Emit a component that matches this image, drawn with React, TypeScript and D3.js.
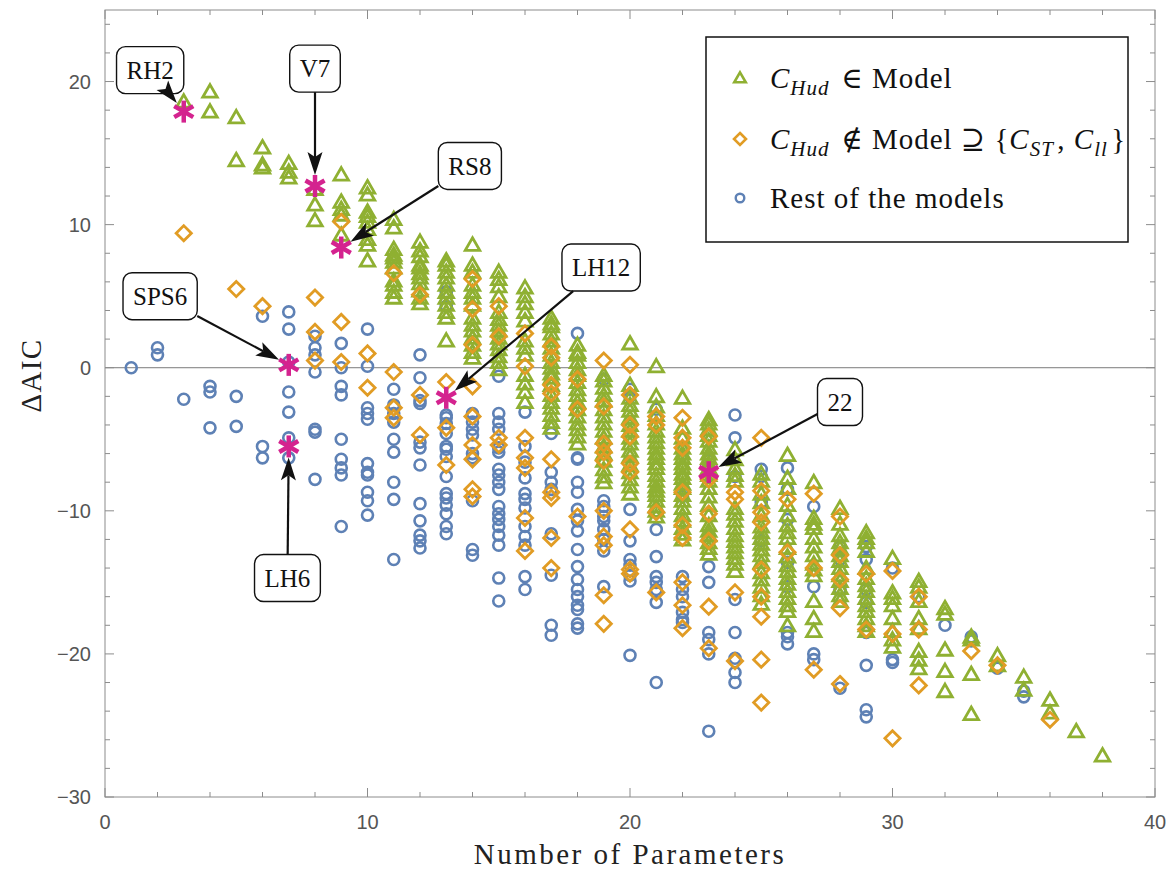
import React, { useEffect, useRef } from "react";
import * as d3 from "d3";

const W = 1169;
const H = 870;

// ΔAIC values, grouped by number of parameters: [params, [ΔAIC, ...]]
const hudInModel: [number, number[]][] = [
  [3, [18.5]],
  [4, [19.2, 17.8]],
  [5, [17.4, 14.4]],
  [6, [15.3, 14.1, 13.9]],
  [7, [14.2, 13.6, 13.2]],
  [8, [12.4, 11.3, 10.2]],
  [9, [13.4, 11.5, 11.0, 10.6, 9.2]],
  [10, [12.5, 12.0, 10.8, 10.5, 10.1, 9.6, 8.9, 8.5, 7.4]],
  [11, [10.3, 9.7, 8.2, 7.8, 7.6, 7.3, 6.9, 6.0, 5.7, 5.2, 4.8]],
  [12, [8.7, 8.1, 7.7, 7.1, 6.9, 6.5, 6.2, 5.8, 5.3, 4.8, 4.4]],
  [13, [7.4, 7.1, 6.6, 6.2, 5.7, 5.2, 4.8, 4.3, 3.8, 3.4, 1.8]],
  [14, [8.5, 7.1, 6.6, 5.7, 5.2, 4.8, 4.3, 3.4, 2.9, 2.5, 2.0, 1.5, 1.0, 0.6]],
  [15, [6.6, 6.1, 5.6, 4.9, 3.8, 3.3, 2.9, 2.5, 2.0, 1.6, 1.2, 0.7, 0.3, -0.2]],
  [16, [5.5, 4.9, 4.4, 3.8, 3.2, 1.8, 1.3, 0.8, -0.6, -1.2, -1.8, -2.5]],
  [17, [3.4, 3.0, 2.8, 2.3, 1.8, 1.3, 0.8, 0.3, -0.1, -0.5, -0.8, -1.3, -2.0, -2.5, -2.9, -3.4, -3.9, -4.3]],
  [18, [1.5, 1.0, 0.8, 0.3, -0.2, -0.6, -1.1, -1.6, -2.0, -2.5, -3.0, -3.5, -4.0, -4.4, -4.9, -5.4]],
  [19, [-0.6, -1.0, -1.5, -2.0, -2.4, -3.0, -3.5, -4.0, -4.5, -5.0, -5.6, -6.1, -6.6, -7.2, -7.7, -8.1]],
  [20, [1.6, -1.3, -2.2, -2.7, -3.1, -3.6, -4.1, -4.5, -5.0, -5.4, -5.9, -6.3, -6.9, -7.4, -7.9, -8.4, -8.9]],
  [21, [0.0, -2.1, -2.8, -3.4, -4.0, -4.5, -4.9, -5.3, -5.7, -6.1, -6.4, -6.8, -7.1, -7.6, -8.0, -8.4, -8.7, -9.0, -9.4, -9.8, -10.1, -10.5]],
  [22, [-2.2, -4.3, -5.0, -5.7, -6.1, -6.4, -6.8, -7.1, -7.5, -7.8, -8.2, -8.5, -9.0, -9.4, -9.9, -10.4, -10.8, -11.3, -11.7, -12.1]],
  [23, [-3.7, -4.0, -4.4, -4.8, -5.2, -5.7, -6.1, -6.4, -6.8, -7.1, -7.6, -8.0, -8.5, -9.1, -9.7, -10.4, -11.1, -11.5, -11.8, -12.3, -12.7, -13.1]],
  [24, [-5.8, -6.5, -7.1, -7.6, -8.0, -9.9, -10.3, -10.8, -11.3, -11.8, -12.2, -12.6, -13.0, -13.4, -13.8, -14.3]],
  [25, [-7.5, -8.0, -8.9, -9.5, -10.4, -11.2, -11.6, -12.0, -12.4, -12.8, -13.2, -13.7, -14.4, -14.9, -15.4, -16.0, -16.6]],
  [26, [-6.2, -7.8, -8.5, -9.7, -10.4, -11.1, -11.6, -12.0, -12.7, -13.3, -13.9, -14.3, -14.8, -15.2, -15.7, -16.2, -16.7, -17.1, -18.1]],
  [27, [-8.1, -10.6, -11.0, -11.3, -12.0, -12.6, -13.2, -13.8, -14.2, -14.6, -16.4, -17.6, -18.5]],
  [28, [-9.9, -11.0, -11.8, -12.3, -12.7, -13.2, -13.6, -14.1, -14.6, -15.0, -15.5, -16.0, -16.4]],
  [29, [-11.6, -12.0, -12.3, -12.9, -14.1, -14.8, -15.3, -15.7, -16.2, -16.7, -17.1, -17.6, -18.1, -18.5]],
  [30, [-13.4, -15.8, -16.2, -16.7, -17.6, -18.5, -19.1, -19.6]],
  [31, [-15.0, -15.4, -16.4, -17.6, -18.3, -19.9, -20.5, -21.1]],
  [32, [-16.9, -17.3, -19.8, -21.3, -22.7]],
  [33, [-18.9, -19.1, -21.5, -24.3]],
  [34, [-20.2, -20.9]],
  [35, [-21.7, -22.6]],
  [36, [-23.3, -24.2]],
  [37, [-25.5]],
  [38, [-27.2]],
];

const hudOutWithSTll: [number, number[]][] = [
  [3, [9.4]],
  [5, [5.5]],
  [6, [4.3]],
  [8, [4.9, 2.5, 0.5]],
  [9, [10.2, 3.2, 0.4]],
  [10, [1.0, -1.4]],
  [11, [6.6, -0.3, -2.8, -3.5]],
  [12, [5.1, -1.9, -4.7]],
  [13, [-1.0, -4.2, -6.8]],
  [14, [6.2, 4.1, 1.6, -1.3, -3.4, -5.4, -6.4, -8.5, -9.0]],
  [15, [4.3, 2.2, -4.9, -5.4]],
  [16, [2.4, 0.1, -4.9, -6.3, -7.0, -10.5, -12.8]],
  [17, [1.5, 0.7, -1.2, -1.8, -6.4, -8.7, -9.1, -11.9, -14.0]],
  [18, [-0.8, -2.9, -10.4]],
  [19, [0.5, -2.7, -5.3, -5.9, -6.5, -10.0, -11.8, -12.4, -15.9, -17.9]],
  [20, [0.2, -1.9, -4.0, -4.8, -6.7, -7.3, -11.3, -14.1, -14.4]],
  [21, [-3.4, -4.0, -10.1, -15.7]],
  [22, [-3.5, -4.9, -5.6, -8.7, -11.0, -11.9, -15.0, -16.6, -18.2]],
  [23, [-4.8, -7.8, -10.2, -12.1, -16.7, -19.6]],
  [24, [-8.7, -9.2, -15.7, -20.5]],
  [25, [-4.9, -8.6, -10.1, -10.8, -14.1, -16.0, -17.4, -20.4, -23.4]],
  [26, [-9.2, -12.9]],
  [27, [-8.8, -14.0, -21.1]],
  [28, [-10.4, -13.1, -14.8, -16.8, -22.1]],
  [29, [-14.4, -18.3]],
  [30, [-14.2, -18.6, -25.9]],
  [31, [-16.0, -18.3, -22.2]],
  [33, [-19.8]],
  [34, [-20.8]],
  [36, [-24.6]],
];

const otherModels: [number, number[]][] = [
  [1, [0.0]],
  [2, [1.4, 0.9]],
  [3, [-2.2]],
  [4, [-1.3, -1.7, -4.2]],
  [5, [-2.0, -4.1]],
  [6, [3.6, -5.5, -6.3]],
  [7, [3.9, 2.7, 0.4, -1.7, -3.1, -4.9, -6.3]],
  [8, [2.2, 1.4, 0.9, -0.3, -4.3, -4.5, -7.8]],
  [9, [1.7, 0.0, -1.3, -1.9, -5.0, -6.4, -7.0, -7.5, -11.1]],
  [10, [2.7, 0.1, -2.8, -3.2, -3.6, -6.7, -7.3, -7.5, -8.7, -9.3, -10.3]],
  [11, [-1.5, -2.6, -3.2, -3.8, -5.0, -5.9, -8.0, -9.2, -13.4]],
  [12, [0.9, -0.7, -2.3, -2.5, -5.2, -5.6, -6.8, -9.5, -10.7, -11.7, -12.1, -12.6]],
  [13, [5.3, 4.3, -3.3, -3.5, -3.9, -4.6, -5.5, -5.7, -6.2, -7.6, -8.8, -9.1, -9.6, -10.2, -11.1, -11.6]],
  [14, [-3.2, -3.8, -4.3, -4.7, -6.0, -6.3, -9.3, -12.7, -13.1]],
  [15, [-0.6, -3.2, -3.8, -4.3, -5.6, -5.9, -7.1, -7.5, -8.0, -8.5, -9.7, -10.2, -10.6, -11.1, -11.7, -12.4, -14.7, -16.3]],
  [16, [-3.1, -5.5, -6.6, -7.7, -8.8, -9.2, -9.8, -11.1, -11.8, -12.4, -14.6, -15.5]],
  [17, [-4.6, -7.3, -8.0, -8.5, -11.6, -14.5, -18.0, -18.7]],
  [18, [2.4, -6.3, -6.4, -8.0, -8.7, -9.9, -10.7, -11.4, -12.7, -13.9, -14.8, -15.5, -16.0, -16.6, -16.9, -17.9, -18.2]],
  [19, [-0.8, -9.3, -9.7, -10.4, -10.7, -11.3, -12.0, -12.8, -15.3]],
  [20, [-1.5, -2.0, -9.9, -12.1, -13.4, -13.8, -14.5, -14.9, -20.1]],
  [21, [-2.9, -11.3, -13.2, -14.6, -15.0, -15.5, -16.4, -22.0]],
  [22, [-9.0, -14.6, -15.5, -16.0, -17.1, -17.6, -17.8]],
  [23, [-6.5, -13.9, -15.0, -18.5, -19.0, -20.0, -25.4]],
  [24, [-3.3, -4.9, -7.6, -16.2, -18.5, -20.3, -21.3, -22.0]],
  [25, [-7.1, -7.6, -9.4, -12.1]],
  [26, [-7.0, -8.5, -10.6, -13.6, -15.3, -18.5, -18.8, -19.3]],
  [27, [-9.7, -15.3, -20.0, -20.4]],
  [28, [-12.5, -13.4, -15.5, -22.4]],
  [29, [-12.5, -13.4, -15.5, -16.4, -18.5, -20.8, -23.9, -24.4]],
  [30, [-14.0, -20.4, -20.6]],
  [31, [-16.0]],
  [32, [-18.0]],
  [33, [-18.8, -19.1]],
  [34, [-21.0]],
  [35, [-22.6, -23.0]],
];

// Benchmark models that are called out on the plot
const benchmarks = [
  { name: "RH2", params: 3, aic: 17.9 },
  { name: "V7", params: 8, aic: 12.7 },
  { name: "RS8", params: 9, aic: 8.4 },
  { name: "SPS6", params: 7, aic: 0.2 },
  { name: "LH12", params: 13, aic: -2.1 },
  { name: "LH6", params: 7, aic: -5.5 },
  { name: "22", params: 23, aic: -7.3 },
];

// Where each callout box sits, in data coordinates
const calloutAt: Record<string, [number, number]> = {
  RH2: [1.72, 20.8],
  V7: [8.0, 20.9],
  RS8: [13.9, 14.1],
  SPS6: [2.1, 5.0],
  LH12: [18.9, 7.0],
  LH6: [6.95, -14.7],
  "22": [28.0, -2.4],
};

const xTicks = [0, 10, 20, 30, 40];
const yTicks = [-30, -20, -10, 0, 10, 20];

const GREEN = "#8FB032";
const ORANGE = "#E19C24";
const BLUE = "#5E81B5";
const MAGENTA = "#D4238F";
const SERIF = "Liberation Serif, Tinos, Times New Roman, DejaVu Serif, serif";
const SANS = "Liberation Sans, Arimo, Arial, DejaVu Sans, sans-serif";

const flatten = (cols: [number, number[]][]) =>
  cols.flatMap(([p, vals]) => vals.map((v) => ({ p, v })));

const trianglePath = (s: number) => {
  const h = (s * Math.sqrt(3)) / 2;
  return `M0,${(-2 * h) / 3}L${s / 2},${h / 3}L${-s / 2},${h / 3}Z`;
};
const diamondPath = (r: number) => `M0,${-r}L${r},0L0,${r}L${-r},0Z`;

export default function App() {
  const ref = useRef<SVGSVGElement>(null);

  useEffect(() => {
    const svg = d3.select(ref.current!);
    svg.selectAll("*").remove();

    const x = d3.scaleLinear().domain([0, 40]).range([105, 1155]);
    const y = d3.scaleLinear().domain([-30, 25]).range([797, 10]);
    const [x0, x1] = x.range();
    const [y0, y1] = y.range();

    svg.append("rect").attr("width", W).attr("height", H).attr("fill", "#fff");

    // zero reference line
    svg
      .append("line")
      .attr("x1", x0)
      .attr("x2", x1)
      .attr("y1", y(0))
      .attr("y2", y(0))
      .attr("stroke", "#7a7a7a")
      .attr("stroke-width", 1);

    // frame and ticks
    const frame = svg.append("g").attr("stroke", "#8c8c8c").attr("stroke-width", 1);
    frame
      .append("rect")
      .attr("x", x0)
      .attr("y", y1)
      .attr("width", x1 - x0)
      .attr("height", y0 - y1)
      .attr("fill", "none");

    d3.range(-30, 25.1, 2).forEach((v) => {
      const len = v % 10 === 0 ? 9 : 5;
      frame.append("line").attr("x1", x0).attr("x2", x0 + len).attr("y1", y(v)).attr("y2", y(v));
      frame.append("line").attr("x1", x1).attr("x2", x1 - len).attr("y1", y(v)).attr("y2", y(v));
    });
    d3.range(0, 40.1, 2).forEach((v) => {
      const len = v % 10 === 0 ? 9 : 5;
      frame.append("line").attr("x1", x(v)).attr("x2", x(v)).attr("y1", y0).attr("y2", y0 - len);
      frame.append("line").attr("x1", x(v)).attr("x2", x(v)).attr("y1", y1).attr("y2", y1 + len);
    });

    const fmt = (v: number) => (v < 0 ? `\u2212${Math.abs(v)}` : `${v}`);
    svg
      .append("g")
      .selectAll("text")
      .data(yTicks)
      .join("text")
      .attr("x", x0 - 14)
      .attr("y", (d) => y(d))
      .attr("dy", "0.36em")
      .attr("text-anchor", "end")
      .attr("font-family", SANS)
      .attr("font-size", 20)
      .attr("fill", "#555")
      .text(fmt);
    svg
      .append("g")
      .selectAll("text")
      .data(xTicks)
      .join("text")
      .attr("x", (d) => x(d))
      .attr("y", y0 + 32)
      .attr("text-anchor", "middle")
      .attr("font-family", SANS)
      .attr("font-size", 20)
      .attr("fill", "#555")
      .text(fmt);

    // axis titles
    svg
      .append("text")
      .attr("transform", `translate(41,${(y0 + y1) / 2 - 28}) rotate(-90)`)
      .attr("text-anchor", "middle")
      .attr("font-family", SERIF)
      .attr("font-size", 29)
      .attr("letter-spacing", 1.3)
      .attr("fill", "#222")
      .text("\u0394AIC");
    svg
      .append("text")
      .attr("x", (x0 + x1) / 2)
      .attr("y", 864)
      .attr("text-anchor", "middle")
      .attr("font-family", SERIF)
      .attr("font-size", 29)
      .attr("letter-spacing", 2.5)
      .attr("fill", "#222")
      .text("Number of Parameters");

    // data markers
    const plot = svg.append("g");
    plot
      .append("g")
      .selectAll("circle")
      .data(flatten(otherModels))
      .join("circle")
      .attr("cx", (d) => x(d.p))
      .attr("cy", (d) => y(d.v))
      .attr("r", 5.5)
      .attr("fill", "none")
      .attr("stroke", BLUE)
      .attr("stroke-width", 2.6);
    plot
      .append("g")
      .selectAll("path")
      .data(flatten(hudInModel))
      .join("path")
      .attr("transform", (d) => `translate(${x(d.p)},${y(d.v)})`)
      .attr("d", trianglePath(14.5))
      .attr("fill", "none")
      .attr("stroke", GREEN)
      .attr("stroke-width", 2.8);
    plot
      .append("g")
      .selectAll("path")
      .data(flatten(hudOutWithSTll))
      .join("path")
      .attr("transform", (d) => `translate(${x(d.p)},${y(d.v)})`)
      .attr("d", diamondPath(7.6))
      .attr("fill", "none")
      .attr("stroke", ORANGE)
      .attr("stroke-width", 2.8);

    // benchmark asterisks
    const starArm = 11;
    const stars = plot
      .append("g")
      .selectAll("g")
      .data(benchmarks)
      .join("g")
      .attr("transform", (d) => `translate(${x(d.params)},${y(d.aic)})`);
    [90, 30, -30].forEach((deg) => {
      const a = (deg * Math.PI) / 180;
      stars
        .append("line")
        .attr("x1", -starArm * Math.cos(a))
        .attr("y1", -starArm * Math.sin(a))
        .attr("x2", starArm * Math.cos(a))
        .attr("y2", starArm * Math.sin(a))
        .attr("stroke", MAGENTA)
        .attr("stroke-width", 4.5);
    });

    // callouts: rounded box + arrow towards the benchmark point
    const callouts = svg.append("g");
    benchmarks.forEach((b) => {
      const [lx, ly] = calloutAt[b.name];
      const cx = x(lx);
      const cy = y(ly);
      const g = callouts.append("g");
      const t = g
        .append("text")
        .attr("x", cx)
        .attr("y", cy)
        .attr("dy", "0.35em")
        .attr("text-anchor", "middle")
        .attr("font-family", SERIF)
        .attr("font-size", 25)
        .attr("fill", "#111")
        .text(b.name);
      const tw = (t.node() as SVGTextElement).getComputedTextLength();
      const bw = tw + 20;
      const bh = 47;
      g.insert("rect", "text")
        .attr("x", cx - bw / 2)
        .attr("y", cy - bh / 2)
        .attr("width", bw)
        .attr("height", bh)
        .attr("rx", 9)
        .attr("fill", "#fff")
        .attr("stroke", "#111")
        .attr("stroke-width", 1.4);

      const px = x(b.params);
      const py = y(b.aic);
      const dx = px - cx;
      const dy = py - cy;
      const dist = Math.hypot(dx, dy);
      const ux = dx / dist;
      const uy = dy / dist;
      // where the ray from the box centre leaves the box
      const tx = ux !== 0 ? bw / 2 / Math.abs(ux) : Infinity;
      const ty = uy !== 0 ? bh / 2 / Math.abs(uy) : Infinity;
      const tEdge = Math.min(tx, ty);
      const sx = cx + ux * tEdge;
      const sy = cy + uy * tEdge;
      const tipX = px - ux * 11;
      const tipY = py - uy * 11;
      const L = 23;
      const hw = 7.5;
      const nx = -uy;
      const ny = ux;
      const bx = tipX - ux * L;
      const by = tipY - uy * L;
      const notchX = tipX - ux * L * 0.78;
      const notchY = tipY - uy * L * 0.78;
      g.append("line")
        .attr("x1", sx)
        .attr("y1", sy)
        .attr("x2", notchX)
        .attr("y2", notchY)
        .attr("stroke", "#111")
        .attr("stroke-width", 2.2);
      g.append("path")
        .attr(
          "d",
          `M${tipX},${tipY}L${bx + nx * hw},${by + ny * hw}L${notchX},${notchY}L${bx - nx * hw},${by - ny * hw}Z`
        )
        .attr("fill", "#111");
    });

    // legend
    const lg = svg.append("g");
    lg.append("rect")
      .attr("x", 706)
      .attr("y", 37)
      .attr("width", 422)
      .attr("height", 205)
      .attr("fill", "#fff")
      .attr("stroke", "#111")
      .attr("stroke-width", 1.5);
    const rows = [78, 139, 198];
    lg.append("path")
      .attr("transform", `translate(740,${rows[0] + 1})`)
      .attr("d", trianglePath(11.5))
      .attr("fill", "none")
      .attr("stroke", GREEN)
      .attr("stroke-width", 2.6);
    lg.append("path")
      .attr("transform", `translate(740,${rows[1]})`)
      .attr("d", diamondPath(6))
      .attr("fill", "none")
      .attr("stroke", ORANGE)
      .attr("stroke-width", 2.6);
    lg.append("circle")
      .attr("cx", 740)
      .attr("cy", rows[2])
      .attr("r", 4.3)
      .attr("fill", "none")
      .attr("stroke", BLUE)
      .attr("stroke-width", 2.4);

    const textStyle = (sel: d3.Selection<SVGTextElement, unknown, null, undefined>) =>
      sel
        .attr("font-family", SERIF)
        .attr("font-size", 29)
        .attr("letter-spacing", 1)
        .attr("fill", "#111");

    const sym = (
      txt: d3.Selection<SVGTextElement, unknown, null, undefined>,
      main: string,
      sub: string
    ) => {
      txt.append("tspan").attr("font-style", "italic").text(main);
      txt
        .append("tspan")
        .attr("font-style", "italic")
        .attr("font-size", 21)
        .attr("dy", 7)
        .text(sub);
      txt.append("tspan").attr("dy", -7).text("\u200A");
    };

    const t1 = lg.append("text").attr("x", 770).attr("y", rows[0] + 10).call(textStyle);
    sym(t1, "C", "Hud");
    t1.append("tspan").text(" \u2208 Model");

    const t2 = lg.append("text").attr("x", 770).attr("y", rows[1] + 10).call(textStyle);
    sym(t2, "C", "Hud");
    t2.append("tspan").text(" \u2209 Model \u2287 {");
    sym(t2, "C", "ST");
    t2.append("tspan").text(",  ");
    sym(t2, "C", "ll");
    t2.append("tspan").text("}");

    lg.append("text")
      .attr("x", 770)
      .attr("y", rows[2] + 10)
      .call(textStyle)
      .text("Rest of the models");
  }, []);

  return (
    <svg
      ref={ref}
      width={W}
      height={H}
      style={{ position: "absolute", left: 0, top: 0, display: "block" }}
    />
  );
}
